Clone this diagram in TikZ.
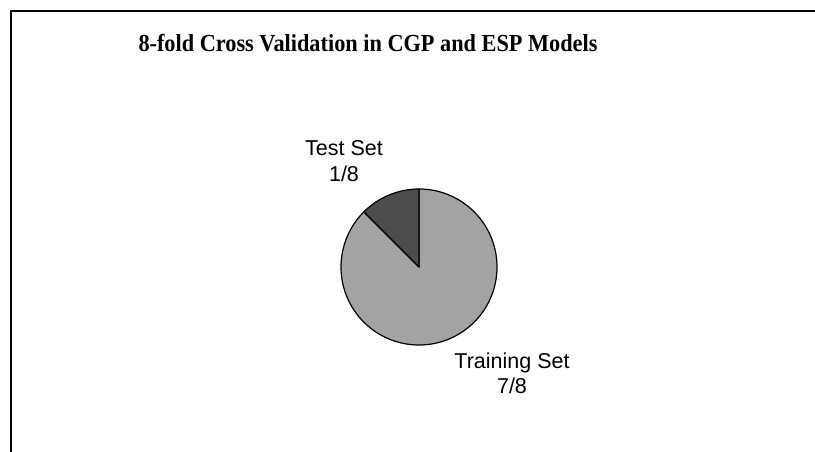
\documentclass[tikz,border=0pt]{standalone}
\usepackage{graphicx}
\usepackage{fontspec}
\setmainfont{Liberation Serif}
\newfontfamily\labelfont{Liberation Sans}
\definecolor{lightslice}{HTML}{A3A3A3}
\definecolor{darkslice}{HTML}{4D4D4D}
\begin{document}
\begin{tikzpicture}[x=1pt,y=1pt,
  framestyle/.style={line width=2pt, line cap=rect},
  slicestyle/.style={draw=black, line width=1.2pt, line join=round},
  lbl/.style={font=\labelfont\fontsize{21.5}{25}\selectfont, align=center, inner sep=0pt, anchor=base},
  ttl/.style={font=\bfseries\fontsize{24.5}{28}\selectfont, inner sep=0pt, anchor=base}]
\useasboundingbox (0,0) rectangle (815,451);
\coordinate (fbl) at (11,-5);
\coordinate (ftl) at (11,440);
\coordinate (ftr) at (820,440);
\draw[framestyle] (fbl) -- (ftl) -- (ftr);
\node[ttl] (title) at (368,399) {\scalebox{0.91}[1]{8-fold Cross Validation in CGP and ESP Models}};
\coordinate (c) at (419,184);
\draw[slicestyle, fill=lightslice] (c) -- ++(90:78) arc[start angle=90, end angle=-225, radius=78] -- cycle;
\draw[slicestyle, fill=darkslice] (c) -- ++(90:78) arc[start angle=90, end angle=135, radius=78] -- cycle;
\node[lbl] (test) at (344,270) {Test Set\\1/8};
\node[lbl] (train) at (512,58) {Training Set\\7/8};
\end{tikzpicture}
\end{document}
